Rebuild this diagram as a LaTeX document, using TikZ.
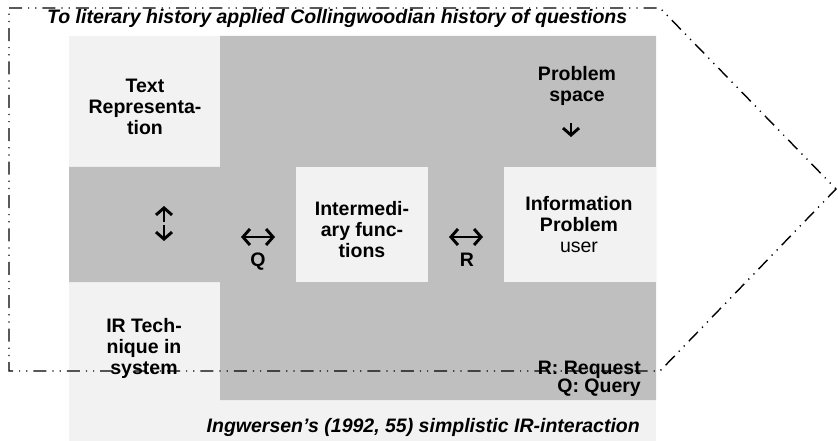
\documentclass[tikz,border=0pt]{standalone}
\usepackage{fontspec}
\setmainfont{Liberation Sans}
\usetikzlibrary{arrows.meta}
\definecolor{paleface}{HTML}{F2F2F2}
\definecolor{midgray}{HTML}{BFBFBF}
\begin{document}
\begin{tikzpicture}[x=1pt,y=-1pt,
  lightbox/.style={fill=paleface,draw=none,inner sep=0pt},
  lbl/.style={font=\fontsize{19.5}{21}\selectfont\bfseries,align=center,inner sep=0pt,anchor=base},
  capt/.style={font=\fontsize{19.5}{21}\selectfont\bfseries\itshape,inner sep=0pt},
  glyph/.style={line width=2.9pt,-{Straight Barb[length=7pt,width=16pt,line width=2.9pt]}},
  frame/.style={line width=1.4pt,dash pattern=on 13pt off 6pt on 1.2pt off 6pt on 1.2pt off 6pt}]
\useasboundingbox (0,0) rectangle (838,441);
% light backdrop and grey field
\fill[paleface] (69,36) rectangle (656,441);
\fill[midgray] (220,36) -- (656,36) -- (656,400) -- (220,400) -- (220,282)
  -- (69,282) -- (69,167) -- (220,167) -- cycle;
% light boxes in the middle row
\node[lightbox,minimum width=132pt,minimum height=115pt] (inter) at (362,224.5) {};
\node[lightbox,minimum width=152pt,minimum height=115pt] (info) at (580,224.5) {};
% labels (anchored at the baseline of their last line)
\node[lbl] (textrep) at (145,135) {Text\\Representa-\\tion};
\node[lbl] (probspace) at (577,102) {Problem\\space};
\node[lbl] (intertxt) at (362,257) {Intermedi-\\ary func-\\tions};
\node[lbl] (infotxt) at (579,252) {Information\\Problem\\\mdseries user};
\node[lbl] (irtech) at (144,374) {IR Tech-\\nique in\\system};
\node[lbl] (qlbl) at (258,266) {Q};
\node[lbl] (rlbl) at (467,266) {R};
\node[lbl,align=right,anchor=base east,font=\fontsize{19.5}{18}\selectfont\bfseries] (legend) at (641,392) {R: Request\\Q: Query};
\node[capt,anchor=base west] (title) at (47,23.5) {To literary history applied Collingwoodian history of questions};
\node[capt,anchor=base east] (caption) at (640,432) {Ingwersen’s (1992, 55) simplistic IR-interaction};
% arrow symbols
\coordinate (vmidA) at (164,222);
\coordinate (vtop) at (164,206);
\coordinate (vmidB) at (164,225);
\coordinate (vbot) at (164,241);
\draw[glyph] (vmidA) -- (vtop);
\draw[glyph] (vmidB) -- (vbot);
\coordinate (qmid) at (258,237);
\coordinate (qleft) at (241,237);
\coordinate (qright) at (275,237);
\draw[glyph] (qmid) -- (qleft);
\draw[glyph] (qmid) -- (qright);
\coordinate (rmid) at (466,237);
\coordinate (rleft) at (449,237);
\coordinate (rright) at (483,237);
\draw[glyph] (rmid) -- (rleft);
\draw[glyph] (rmid) -- (rright);
\coordinate (pstart) at (571,123);
\coordinate (pend) at (571,137);
\draw[glyph] (pstart) -- (pend);
% arrow-shaped dash-dot frame
\draw[frame] (9,8) -- (660,8) -- (836,189) -- (660,371) -- (9,371) -- cycle;
\end{tikzpicture}
\end{document}
